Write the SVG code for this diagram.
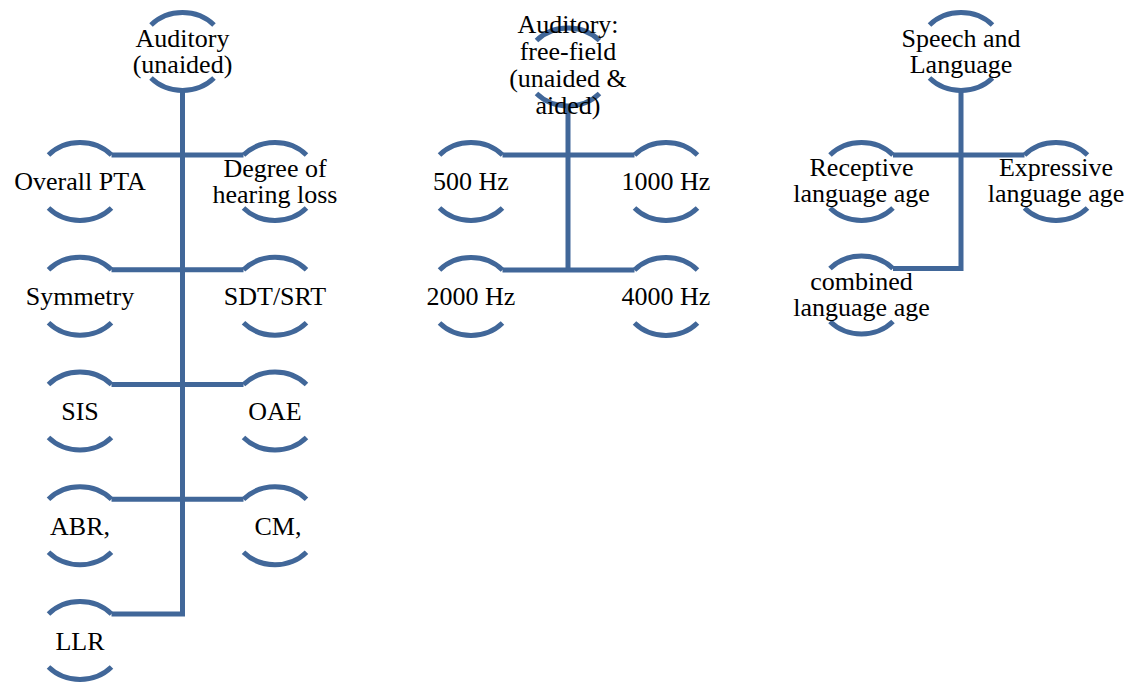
<svg xmlns="http://www.w3.org/2000/svg" width="1141" height="684" viewBox="0 0 1141 684">
<defs>
<style>
.arc{fill:none;stroke:#416799;stroke-width:5}
.con{fill:none;stroke:#416799;stroke-width:5;stroke-linejoin:miter}
.t{font-family:'Liberation Serif','Times New Roman','DejaVu Serif',serif;font-size:26px;fill:#000;text-anchor:middle}
</style>
<path id="nd" class="arc" d="M-31.5,-26.5 A43,39 0 0 1 31.5,-26.5 M-31.5,26.5 A43,39 0 0 0 31.5,26.5"/>
</defs>
<rect width="1141" height="684" fill="#fff"/>
<g id="connectors">
<path class="con" d="M182.5,90 V614 H111.5 M111.5,155 H243.5 M111.5,269.75 H243.5 M111.5,384.5 H243.5 M111.5,499.25 H243.5"/>
<path class="con" d="M568,106 V270 M502.5,155 H634.5 M502.5,270 H634.5"/>
<path class="con" d="M961,90 V268.5 H893 M893,155 H1024.5"/>
</g>
<g class="t" font-family="Liberation Serif, serif">
<g id="n-auditory">
<use href="#nd" transform="translate(182.5,51.5)"/>
<text x="182.5" y="47">Auditory</text><text x="182.5" y="73">(unaided)</text>
</g>
<g id="n-pta"><use href="#nd" transform="translate(80,181.5)"/><text x="80" y="190">Overall PTA</text></g>
<g id="n-degree"><use href="#nd" transform="translate(275,181.5)"/><text x="275" y="177">Degree of</text><text x="275" y="203">hearing loss</text></g>
<g id="n-symmetry"><use href="#nd" transform="translate(80,296.25)"/><text x="80" y="305">Symmetry</text></g>
<g id="n-sdt"><use href="#nd" transform="translate(275,296.25)"/><text x="275" y="305">SDT/SRT</text></g>
<g id="n-sis"><use href="#nd" transform="translate(80,411)"/><text x="80" y="419.5">SIS</text></g>
<g id="n-oae"><use href="#nd" transform="translate(275,411)"/><text x="275" y="419.5">OAE</text></g>
<g id="n-abr"><use href="#nd" transform="translate(80,525.75)"/><text x="80" y="534.5">ABR,</text></g>
<g id="n-cm"><use href="#nd" transform="translate(275,525.75)"/><text x="278" y="534.5">CM,</text></g>
<g id="n-llr"><use href="#nd" transform="translate(80,640.5)"/><text x="80" y="649.5">LLR</text></g>

<g id="n-freefield">
<use href="#nd" transform="translate(568,67)"/>
<text x="568" y="33">Auditory:</text><text x="568" y="60">free-field</text><text x="568" y="87">(unaided &amp;</text><text x="568" y="114">aided)</text>
</g>
<g id="n-500"><use href="#nd" transform="translate(471,181.5)"/><text x="471" y="190">500 Hz</text></g>
<g id="n-1000"><use href="#nd" transform="translate(666,181.5)"/><text x="666" y="190">1000 Hz</text></g>
<g id="n-2000"><use href="#nd" transform="translate(471,296.5)"/><text x="471" y="305">2000 Hz</text></g>
<g id="n-4000"><use href="#nd" transform="translate(666,296.5)"/><text x="666" y="305">4000 Hz</text></g>

<g id="n-speech">
<use href="#nd" transform="translate(961,51.5)"/>
<text x="961" y="47">Speech and</text><text x="961" y="73">Language</text>
</g>
<g id="n-receptive"><use href="#nd" transform="translate(861.5,181.5)"/><text x="861.5" y="176">Receptive</text><text x="861.5" y="202">language age</text></g>
<g id="n-expressive"><use href="#nd" transform="translate(1056,181.5)"/><text x="1056" y="176">Expressive</text><text x="1056" y="202">language age</text></g>
<g id="n-combined"><use href="#nd" transform="translate(861.5,295)"/><text x="861.5" y="290">combined</text><text x="861.5" y="316">language age</text></g>
</g>
</svg>
